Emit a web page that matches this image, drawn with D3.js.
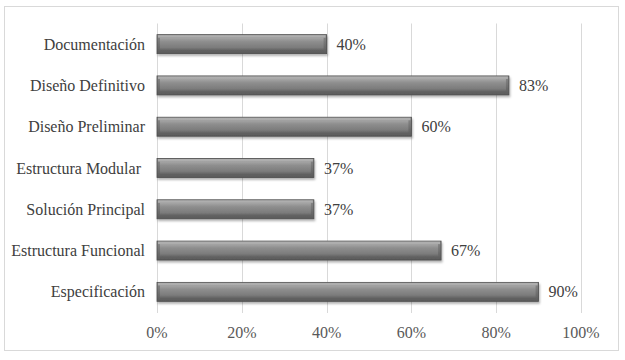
<!DOCTYPE html>
<html>
<head>
<meta charset="utf-8">
<script src="https://cdn.jsdelivr.net/npm/d3@7"></script>
<style>
  body { margin: 0; background: #fff; }
</style>
</head>
<body>
<div id="chart"></div>
<script>
(function (d3) {
    'use strict';

    const categories = ['Documentación', 'Diseño Definitivo', 'Diseño Preliminar',
                        'Estructura Modular ', 'Solución Principal', 'Estructura Funcional', 'Especificación'];
    const values = [0.40, 0.83, 0.60, 0.37, 0.37, 0.67, 0.90];
    const ticks = [0, 0.2, 0.4, 0.6, 0.8, 1.0];

    var width = 625,
        height = 360,
        font = "'Liberation Serif', 'DejaVu Serif', serif";

    var svg = d3.select('#chart').append('svg')
        .attr('width', width)
        .attr('height', height)
        .attr('font-family', font);

    var defs = svg.append('defs');

    // bar shading, lighter on top and darker below
    var grad = defs.append('linearGradient')
        .attr('id', 'barfill')
        .attr('x1', 0).attr('y1', 0).attr('x2', 0).attr('y2', 1);
    grad.append('stop').attr('offset', '0%').attr('stop-color', '#a6a6a6');
    grad.append('stop').attr('offset', '30%').attr('stop-color', '#8e8e8e');
    grad.append('stop').attr('offset', '75%').attr('stop-color', '#7c7c7c');
    grad.append('stop').attr('offset', '100%').attr('stop-color', '#606060');

    var edge = defs.append('linearGradient')
        .attr('id', 'edgefill')
        .attr('x1', 0).attr('y1', 0).attr('x2', 0).attr('y2', 1);
    edge.append('stop').attr('offset', '0%').attr('stop-color', '#8a8a8a');
    edge.append('stop').attr('offset', '100%').attr('stop-color', '#5a5a5a');

    var shadow = defs.append('filter').attr('id', 'shadow')
        .attr('x', '-5%').attr('y', '-30%').attr('width', '110%').attr('height', '170%');
    shadow.append('feDropShadow')
        .attr('dx', 1).attr('dy', 2).attr('stdDeviation', 1.2)
        .attr('flood-color', '#000').attr('flood-opacity', 0.3);

    // chart frame
    svg.append('rect')
        .attr('x', 4.5).attr('y', 6.5)
        .attr('width', 614).attr('height', 344)
        .attr('fill', '#fff')
        .attr('stroke', '#d9d9d9');

    var x = d3.scaleLinear().domain([0, 1]).range([157, 581]);
    var y = d3.scaleBand().domain(categories).range([23.5, 312.5])
        .paddingInner(0.54).paddingOuter(0.27);

    // gridlines
    svg.append('g').selectAll('line').data(ticks).enter()
        .append('line')
            .attr('x1', function (d) { return Math.round(x(d)) + 0.5; })
            .attr('x2', function (d) { return Math.round(x(d)) + 0.5; })
            .attr('y1', 23.5).attr('y2', 313)
            .attr('stroke', '#d9d9d9');

    // tick labels
    svg.append('g').selectAll('text').data(ticks).enter()
        .append('text')
            .attr('x', function (d) { return x(d); })
            .attr('y', 338)
            .attr('text-anchor', 'middle')
            .attr('font-size', 16)
            .attr('fill', '#595959')
            .text(d3.format('.0%'));

    // category labels
    svg.append('g').selectAll('text').data(categories).enter()
        .append('text')
            .attr('x', 145)
            .attr('y', function (d) { return y(d) + y.bandwidth() / 2; })
            .attr('dy', '0.35em')
            .attr('text-anchor', 'end')
            .attr('font-size', 16)
            .attr('fill', '#404040')
            .style('white-space', 'pre')
            .text(function (d) { return d; });

    var bars = svg.append('g').selectAll('g.bar').data(categories).enter()
        .append('g')
            .attr('class', 'bar')
            .attr('filter', 'url(#shadow)');

    bars.append('rect')
        .attr('x', x(0))
        .attr('y', function (d) { return y(d); })
        .attr('width', function (d, i) { return x(values[i]) - x(0); })
        .attr('height', y.bandwidth())
        .attr('fill', 'url(#edgefill)')
        .attr('stroke', '#4d4d4d')
        .attr('stroke-width', 0.8);

    // inner face, inset to give the bevel look
    bars.append('rect')
        .attr('x', x(0) + 3)
        .attr('y', function (d) { return y(d) + 3; })
        .attr('width', function (d, i) { return x(values[i]) - x(0) - 6; })
        .attr('height', y.bandwidth() - 6)
        .attr('fill', 'url(#barfill)');

    // top highlight strip
    bars.append('rect')
        .attr('x', x(0) + 1)
        .attr('y', function (d) { return y(d) + 0.5; })
        .attr('width', function (d, i) { return x(values[i]) - x(0) - 2; })
        .attr('height', 2.5)
        .attr('fill', '#b8b8b8')
        .attr('opacity', 0.8);

    // value labels
    svg.append('g').selectAll('text').data(categories).enter()
        .append('text')
            .attr('x', function (d, i) { return x(values[i]) + 10; })
            .attr('y', function (d) { return y(d) + y.bandwidth() / 2; })
            .attr('dy', '0.35em')
            .attr('font-size', 16)
            .attr('fill', '#404040')
            .text(function (d, i) { return d3.format('.0%')(values[i]); });

})(d3);
</script>
</body>
</html>
